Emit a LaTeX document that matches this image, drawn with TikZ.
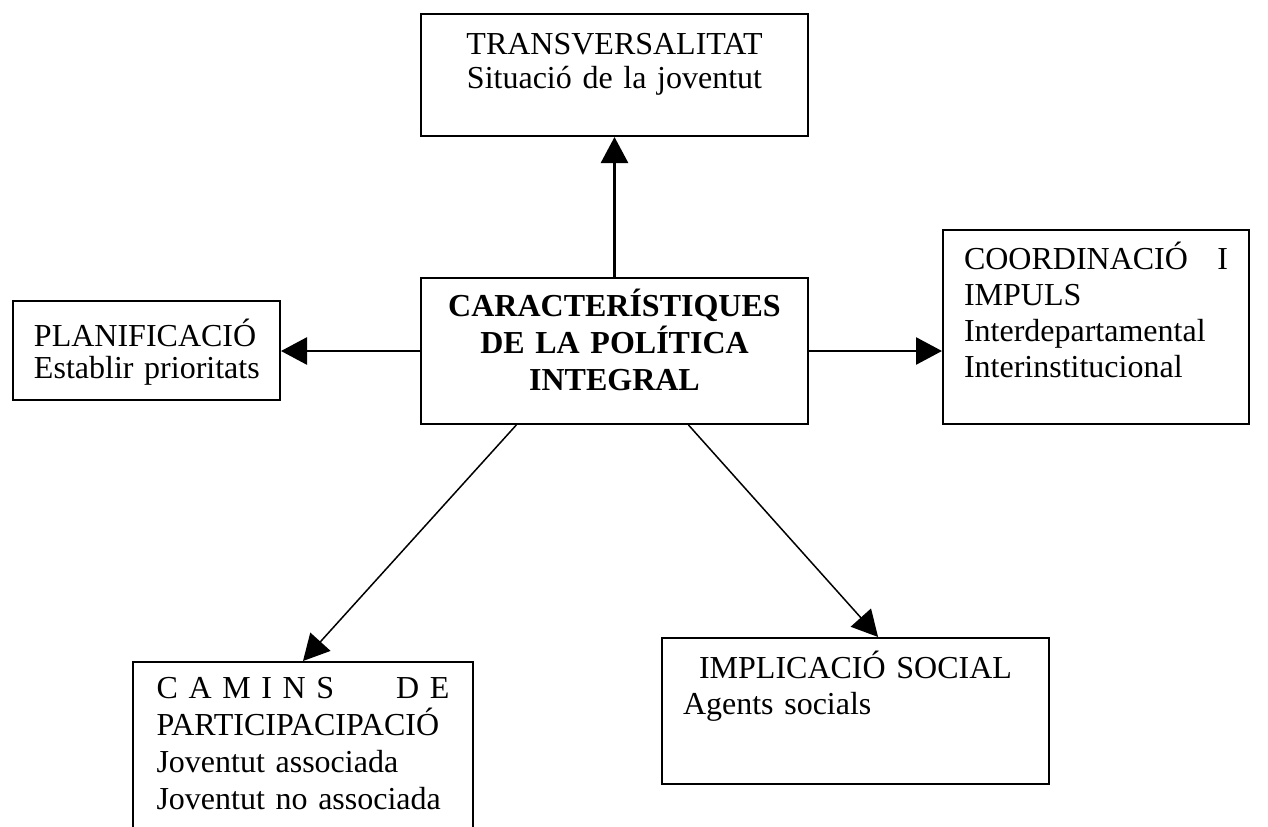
\documentclass[tikz,border=0pt]{standalone}
\usepackage{fontspec}
\setmainfont{Liberation Serif}
\usetikzlibrary{arrows.meta}

\begin{document}
\begin{tikzpicture}[x=0.4pt,y=-0.4pt,
    box/.style={draw, line width=0.8pt, anchor=north west, inner ysep=0pt, inner xsep=8.4pt,
      text width=138pt, font=\fontsize{12.8pt}{14.4pt}\selectfont},
    thickarrow/.style={line width=1.1pt, -{Triangle[length=10.4pt,width=10.8pt]}},
    thinarrow/.style={line width=0.6pt, -{Triangle[length=10.4pt,width=10.8pt]}}]
    \useasboundingbox (0,0) rectangle (1268,827);
    \clip (0,0) rectangle (1268,827);

    \node [box, align=center, text height=16pt, text depth=32.8pt,
      font=\fontsize{12.8pt}{13.6pt}\selectfont] (transv) at (420,13)
      {TRANSVERSALITAT\\Situació de la joventut};
    \node [box, align=center, text height=15.2pt, text depth=43.2pt,
      font=\bfseries\fontsize{12.8pt}{14.8pt}\selectfont] (carac) at (420,277)
      {CARACTERÍSTIQUES\\DE LA POLÍTICA\\INTEGRAL};
    \node [box, align=left, text width=90pt, text height=18pt, text depth=21.6pt,
      font=\fontsize{12.8pt}{13pt}\selectfont] (planif) at (12,300)
      {PLANIFICACIÓ\\\mbox{Establir prioritats}};
    \node [box, align=left, text width=105.6pt, text height=15.6pt, text depth=62pt] (coord) at (942,229)
      {\hbox to\linewidth{COORDINACIÓ\hfill I}\\IMPULS\\Interdepartamental\\Interinstitucional};
    \node [box, align=left, text width=117.2pt, inner xsep=9.4pt, text height=14.4pt, text depth=90pt,
      font=\fontsize{12.8pt}{14.8pt}\selectfont] (camins) at (132,661)
      {\hbox to\linewidth{C A M I N S\hfill D E}\\PARTICIPACIPACIÓ\\Joventut associada\\Joventut no associada};
    \node [box, align=left, text height=16pt, text depth=42.4pt] (implic) at (661,637)
      {\hbox to\linewidth{\hfil IMPLICACIÓ SOCIAL\hfil}\\Agents socials};

    \draw [thickarrow] (carac.north) -- (transv.south);
    \draw [thickarrow] (carac.west) -- (carac.west -| planif.east);
    \draw [thickarrow] (carac.east) -- (carac.east -| coord.west);
    \draw [thinarrow] (carac.217) -- (camins.north);
    \draw [thinarrow] (carac.-45) -- (implic.73);
\end{tikzpicture}
\end{document}
